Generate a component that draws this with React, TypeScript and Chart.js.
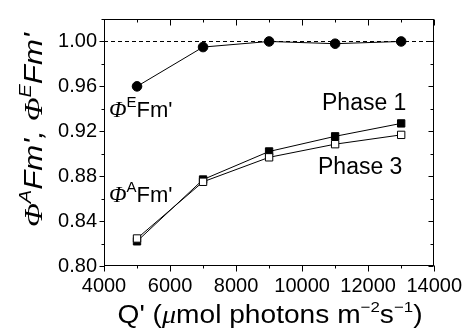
import React, { useEffect, useRef } from "react";
import { Chart, registerables } from "chart.js";

Chart.register(...registerables);

const xValues = [5000, 7000, 9000, 11000, 13000];
const phiE = [0.96, 0.995, 1.0, 0.998, 1.0];
const phase1 = [0.822, 0.877, 0.902, 0.9155, 0.927];
const phase3 = [0.8245, 0.875, 0.8968, 0.9085, 0.9168];
const xTicks = [4000, 6000, 8000, 10000, 12000, 14000];
const yTicks = [0.8, 0.84, 0.88, 0.92, 0.96, 1.0];
const referenceLevel = 1.0;

const SANS = "'Liberation Sans', Arial, sans-serif";
const SERIF = "'Liberation Serif', 'Times New Roman', serif";

type Seg = { text: string; font: string; dy?: number };

function segWidth(ctx: CanvasRenderingContext2D, segs: Seg[]) {
  let w = 0;
  for (const s of segs) {
    ctx.font = s.font;
    w += ctx.measureText(s.text).width;
  }
  return w;
}

function drawSegs(ctx: CanvasRenderingContext2D, segs: Seg[], x: number, y: number) {
  let cx = x;
  for (const s of segs) {
    ctx.font = s.font;
    ctx.fillText(s.text, cx, y - (s.dy || 0));
    cx += ctx.measureText(s.text).width;
  }
}

const decorPlugin = {
  id: "decor",
  beforeDatasetsDraw(chart: any) {
    const ctx: CanvasRenderingContext2D = chart.ctx;
    const { left, right } = chart.chartArea;
    const ys = chart.scales.y;
    ctx.save();
    ctx.strokeStyle = "#000";
    ctx.lineWidth = 1.2;
    ctx.setLineDash([4, 3]);
    const yr = Math.round(ys.getPixelForValue(referenceLevel)) + 0.5;
    ctx.beginPath();
    ctx.moveTo(left, yr);
    ctx.lineTo(right, yr);
    ctx.stroke();
    ctx.restore();
  },
  afterDraw(chart: any) {
    const ctx: CanvasRenderingContext2D = chart.ctx;
    const { left, right, top, bottom } = chart.chartArea;
    const xs = chart.scales.x;
    const ys = chart.scales.y;
    ctx.save();
    ctx.strokeStyle = "#000";
    ctx.lineWidth = 1;
    ctx.setLineDash([]);
    const L = Math.round(left) + 0.5;
    const R = Math.round(right) - 0.5;
    const T = Math.round(top) + 0.5;
    const B = Math.round(bottom) - 0.5;
    ctx.strokeRect(L, T, R - L, B - T);
    ctx.beginPath();
    for (let v = 4000; v <= 14000; v += 1000) {
      const major = v % 2000 === 0;
      const px = Math.round(xs.getPixelForValue(v)) + 0.5;
      const len = major ? 6 : 3;
      ctx.moveTo(px, B);
      ctx.lineTo(px, B + len);
      ctx.moveTo(px, T);
      ctx.lineTo(px, T + len);
    }
    for (let i = 0; i <= 11; i++) {
      const v = 0.8 + i * 0.02;
      const major = i % 2 === 0 && i <= 10;
      const py = Math.round(ys.getPixelForValue(v)) + 0.5;
      const len = major ? 5 : 3;
      ctx.moveTo(L, py);
      ctx.lineTo(L - len, py);
      ctx.moveTo(R, py);
      ctx.lineTo(R - len, py);
    }
    ctx.stroke();

    ctx.fillStyle = "#000";
    ctx.textBaseline = "alphabetic";
    ctx.textAlign = "left";

    const annE: Seg[] = [
      { text: "\u03A6", font: `italic 23px ${SERIF}` },
      { text: "E", font: `15px ${SANS}`, dy: 10 },
      { text: "Fm'", font: `22px ${SANS}` },
    ];
    const annA: Seg[] = [
      { text: "\u03A6", font: `italic 23px ${SERIF}` },
      { text: "A", font: `15px ${SANS}`, dy: 10 },
      { text: "Fm'", font: `22px ${SANS}` },
    ];
    drawSegs(ctx, annE, 109, 117);
    drawSegs(ctx, annA, 109, 202);
    ctx.font = `23px ${SANS}`;
    ctx.fillText("Phase 1", 322, 110);
    ctx.fillText("Phase 3", 318, 174);

    const xt: Seg[] = [
      { text: "Q' (", font: `25px ${SANS}` },
      { text: "\u03BC", font: `italic 25px ${SERIF}` },
      { text: "mol photons m", font: `25px ${SANS}` },
      { text: "\u22122", font: `15px ${SANS}`, dy: 11 },
      { text: "s", font: `25px ${SANS}` },
      { text: "\u22121", font: `15px ${SANS}`, dy: 11 },
      { text: ")", font: `25px ${SANS}` },
    ];
    const xw = segWidth(ctx, xt);
    const xTarget = 305;
    ctx.save();
    ctx.translate(270 - xTarget / 2, 323);
    ctx.scale(xTarget / xw, 1);
    drawSegs(ctx, xt, 0, 0);
    ctx.restore();

    const yt: Seg[] = [
      { text: "\u03A6", font: `italic 25px ${SERIF}` },
      { text: "A", font: `italic 16px ${SANS}`, dy: 11 },
      { text: "Fm', ", font: `italic 25px ${SANS}` },
      { text: "\u03A6", font: `italic 25px ${SERIF}` },
      { text: "E", font: `italic 16px ${SANS}`, dy: 11 },
      { text: "Fm'", font: `italic 25px ${SANS}` },
    ];
    const yw = segWidth(ctx, yt);
    const yTarget = 194;
    ctx.save();
    ctx.translate(42, 130 + yTarget / 2);
    ctx.rotate(-Math.PI / 2);
    ctx.scale(yTarget / yw, 1);
    drawSegs(ctx, yt, 0, 0);
    ctx.restore();

    ctx.restore();
  },
};

export default function App() {
  const ref = useRef<HTMLCanvasElement | null>(null);
  useEffect(() => {
    if (!ref.current) return;
    const common = {
      borderColor: "#000",
      borderWidth: 1,
      pointBorderColor: "#000",
      pointBorderWidth: 1,
      tension: 0,
    };
    const chart = new Chart(ref.current, {
      type: "line",
      data: {
        datasets: [
          {
            ...common,
            label: "ΦE Fm'",
            data: xValues.map((x, i) => ({ x, y: phiE[i] })),
            pointStyle: "circle",
            pointRadius: 4.8,
            pointBackgroundColor: "#000",
          },
          {
            ...common,
            label: "Phase 3",
            data: xValues.map((x, i) => ({ x, y: phase3[i] })),
            pointStyle: "rect",
            pointRadius: 5.2,
            pointBackgroundColor: "#fff",
          },
          {
            ...common,
            label: "Phase 1",
            data: xValues.map((x, i) => ({ x, y: phase1[i] })),
            pointStyle: "rect",
            pointRadius: 5.2,
            pointBackgroundColor: "#000",
          },
        ],
      },
      options: {
        responsive: false,
        animation: false,
        devicePixelRatio: 1,
        layout: { padding: { top: 15, right: 32, left: 0, bottom: 0 } },
        plugins: {
          legend: { display: false },
          tooltip: { enabled: false },
          title: { display: false },
        },
        scales: {
          x: {
            type: "linear",
            min: 4000,
            max: 14000,
            afterFit: (s: any) => {
              s.height = 63;
            },
            afterBuildTicks: (s: any) => {
              s.ticks = xTicks.map((v) => ({ value: v }));
            },
            grid: { display: false, drawTicks: false },
            border: { display: false },
            ticks: {
              padding: 8,
              color: "#000",
              font: { family: SANS, size: 20 },
              maxRotation: 0,
              autoSkip: false,
              callback: (v: any) => String(v),
            },
          },
          y: {
            type: "linear",
            min: 0.8,
            max: 1.02,
            afterFit: (s: any) => {
              s.width = 104;
            },
            afterBuildTicks: (s: any) => {
              s.ticks = yTicks.map((v) => ({ value: v }));
            },
            grid: { display: false, drawTicks: false },
            border: { display: false },
            ticks: {
              padding: 7,
              color: "#000",
              font: { family: SANS, size: 20 },
              autoSkip: false,
              callback: (v: any) => Number(v).toFixed(2),
            },
          },
        },
      },
      plugins: [decorPlugin],
    } as any);
    return () => chart.destroy();
  }, []);
  return (
    <div style={{ position: "absolute", left: 0, top: 0, width: 470, height: 329, background: "#fff" }}>
      <canvas ref={ref} width={470} height={329} />
    </div>
  );
}
